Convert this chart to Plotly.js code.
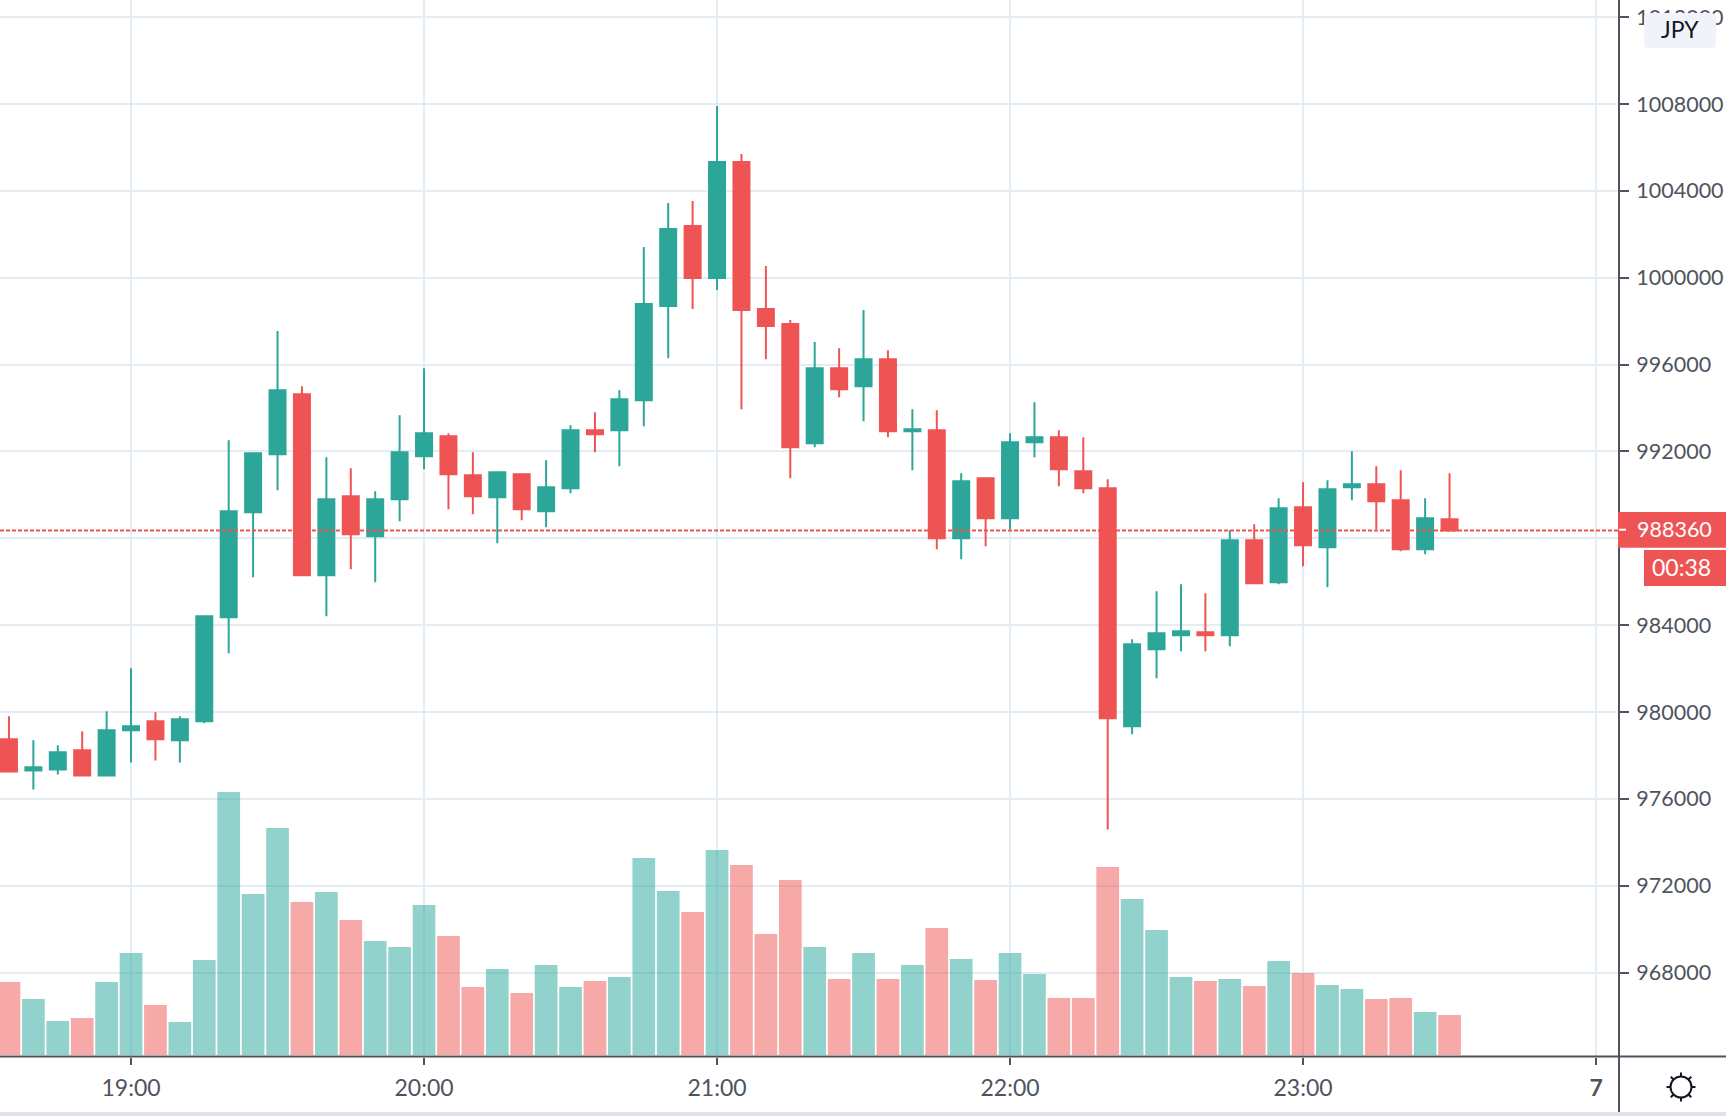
<!DOCTYPE html>
<html>
<head>
<meta charset="utf-8">
<script src="https://cdn.plot.ly/plotly-3.0.1.min.js"></script>
<style>html,body{margin:0;padding:0;background:#fff;overflow:hidden}#chart{width:1726px;height:1116px}</style>
</head>
<body>
<div id="chart"></div>
<script>
const times = ["18:35","18:40","18:45","18:50","18:55","19:00","19:05","19:10","19:15","19:20","19:25","19:30","19:35","19:40","19:45","19:50","19:55","20:00","20:05","20:10","20:15","20:20","20:25","20:30","20:35","20:40","20:45","20:50","20:55","21:00","21:05","21:10","21:15","21:20","21:25","21:30","21:35","21:40","21:45","21:50","21:55","22:00","22:05","22:10","22:15","22:20","22:25","22:30","22:35","22:40","22:45","22:50","22:55","23:00","23:05","23:10","23:15","23:20","23:25","23:30"];
const opens = [978739,977310,977356,978232,977080,979154,979568,978693,979569,984361,989200,991872,994637,986297,989937,988094,989799,991780,992702,990904,989890,990950,989246,990305,992978,992978,994360,998692,1002378,999982,1005327,998553,997862,992379,995835,995005,996249,992932,992978,988001,990766,988923,992425,992655,991089,990305,979338,982887,983532,983670,983532,987909,985974,989430,987587,990351,990490,989752,987494,988877];
const highs = [979799,978693,978462,979108,980029,982011,979983,979799,984453,992517,991918,997540,995006,991734,991227,990167,993669,995835,992840,991964,991043,990996,991595,993208,993807,994821,1001410,1003438,1003530,1007908,1005696,1000535,998047,997033,996756,998507,996664,993945,993899,990996,990812,992840,994268,992978,992655,990720,983347,985559,985882,985467,988370,988646,989845,990582,990674,992010,991319,991135,989845,990997];
const lows = [977264,976435,977126,977080,977034,977679,977771,977679,979477,982702,986204,990213,986297,984407,986573,985974,988785,991181,989338,989107,987771,988831,988508,990075,991964,991319,993162,996295,998553,999429,993945,996249,990766,992194,994498,993393,992655,991135,987494,987033,987633,988416,991734,990397,990075,974592,978970,981550,982794,982794,983025,985928,985882,986711,985743,989752,988416,987402,987264,988324];
const closes = [977264,977449,978140,977080,979154,979338,978739,979660,984407,989246,991918,994821,986297,989799,988186,989799,991964,992840,990951,989937,991043,989337,990351,992978,992793,994406,998784,1002240,999982,1005327,998507,997770,992194,995835,994867,996249,992932,993024,988001,990628,988923,992425,992655,991181,990305,979707,983117,983624,983716,983532,987909,985928,989384,987679,990259,990490,989706,987494,988923,988360];
const volumes = [219,168,102,111,219,306,150,99,285,789,483,681,459,489,405,342,324,450,357,204,258,186,270,204,222,234,591,492,429,615,570,363,525,324,228,306,228,270,381,288,225,306,243,171,171,564,468,375,234,222,228,207,282,246,210,198,168,171,129,120];
const tickTimes = ["19:00","20:00","21:00","22:00","23:00"];
const tickLabels = ["19:00","20:00","21:00","22:00","23:00","<b>7</b>"];
const lastPrice = 988360;
const lastPriceLabel = "988360";
const countdownLabel = "00:38";
const currencyLabel = "JPY";

const DAY = "2020-07-06 ";
const NEXT_DAY = "2020-07-07 ";
const W = 1726, H = 1116, AX = 1619, AY = 1056.5;
const UP = "#2da69a", DOWN = "#ef5454", TEXT = "#50535e", GRID = "#e3edf3", AXIS = "#50535e";
const FONT = "Lato, 'Open Sans', sans-serif";
const px = x => x / W, py = y => 1 - y / H;

const x = times.map(t => DAY + t);
const volColors = closes.map((c, i) => c >= opens[i] ? "rgba(38,166,154,0.5)" : "rgba(239,83,80,0.5)");

const line = (x0, y0, x1, y1, color, width) => ({type:"line", xref:"paper", yref:"paper", x0:px(x0), y0:py(y0), x1:px(x1), y1:py(y1), line:{color, width}, layer:"above"});
const rect = (x0, y0, x1, y1, fill) => ({type:"rect", xref:"paper", yref:"paper", x0:px(x0), y0:py(y0), x1:px(x1), y1:py(y1), fillcolor:fill, line:{width:0}, layer:"above"});
function rounded(x0, y0, x1, y1, r, fill) {
  const X = v => px(v), Y = v => py(v);
  const p = `M${X(x0+r)},${Y(y0)} L${X(x1-r)},${Y(y0)} Q${X(x1)},${Y(y0)} ${X(x1)},${Y(y0+r)} L${X(x1)},${Y(y1-r)} Q${X(x1)},${Y(y1)} ${X(x1-r)},${Y(y1)} L${X(x0+r)},${Y(y1)} Q${X(x0)},${Y(y1)} ${X(x0)},${Y(y1-r)} L${X(x0)},${Y(y0+r)} Q${X(x0)},${Y(y0)} ${X(x0+r)},${Y(y0)} Z`;
  return {type:"path", xref:"paper", yref:"paper", path:p, fillcolor:fill, line:{width:0}, layer:"above"};
}
const gearX = 1681, gearY = 1087, gearR = 10.5;
const gear = [{type:"circle", xref:"paper", yref:"paper", x0:px(gearX-gearR), x1:px(gearX+gearR), y0:py(gearY-gearR), y1:py(gearY+gearR), line:{color:"#131722", width:2}, layer:"above"}];
for (let k = 0; k < 8; k++) {
  const a = k * Math.PI / 4, r0 = gearR, r1 = gearR + 4;
  gear.push(line(gearX + r0*Math.cos(a), gearY + r0*Math.sin(a), gearX + r1*Math.cos(a), gearY + r1*Math.sin(a), "#131722", 2));
}

const traces = [
  {type:"bar", x, y:volumes, yaxis:"y2", marker:{color:volColors, line:{width:0}}, hoverinfo:"skip", showlegend:false},
  {type:"candlestick", x, open:opens, high:highs, low:lows, close:closes, whiskerwidth:0,
   increasing:{line:{color:UP, width:2}, fillcolor:UP}, decreasing:{line:{color:DOWN, width:2}, fillcolor:DOWN},
   hoverinfo:"skip", showlegend:false}
];

const annFont = {family:FONT, size:21.5, color:"#ffffff"};
const layout = {
  width:W, height:H, margin:{l:0,r:0,t:0,b:0,pad:0}, paper_bgcolor:"#ffffff", plot_bgcolor:"#ffffff",
  showlegend:false, hovermode:false, dragmode:false, bargap:0.07, boxgap:0.345, boxgroupgap:0,
  font:{family:FONT, size:21.5, color:TEXT},
  xaxis:{type:"date", domain:[0,AX/W], anchor:"y", range:[DAY+"18:33:10", NEXT_DAY+"00:04:42"],
    tickmode:"array", tickvals:tickTimes.map(t=>DAY+t).concat([NEXT_DAY+"00:00"]), ticktext:tickLabels,
    showgrid:true, gridcolor:GRID, gridwidth:2, zeroline:false, showline:false,
    ticks:"outside", ticklen:7, tickwidth:2, tickcolor:AXIS, ticklabelstandoff:4,
    tickfont:{family:FONT, size:23, color:TEXT}, rangeslider:{visible:false}, fixedrange:true},
  yaxis:{domain:[1-AY/H,1], anchor:"x", side:"right", range:[964134,1012788], tick0:968000, dtick:4000,
    tickformat:"d", showgrid:true, gridcolor:GRID, gridwidth:2, zeroline:false, showline:false,
    ticks:"outside", ticklen:9, tickwidth:2, tickcolor:AXIS, ticklabelstandoff:3, ticklabelshift:-2.5, ticklabeloverflow:"allow",
    tickfont:{family:FONT, size:21.5, color:TEXT}, fixedrange:true},
  yaxis2:{domain:[1-AY/H,1], overlaying:"y", anchor:"x", side:"left", range:[-4.5,3165], visible:false, showgrid:false, fixedrange:true},
  shapes:[
    {type:"line", xref:"paper", yref:"y", x0:0, x1:px(AX), y0:lastPrice, y1:lastPrice, line:{color:DOWN, width:2, dash:"4px,2px"}, layer:"above"},
    line(0, AY, W, AY, AXIS, 2),
    line(AX, 0, AX, 1112, AXIS, 2),
    rect(0, 1112, W, H, "#e0e3eb"),
    rect(AX-1, 512, W, 547.7, DOWN),
    line(AX, 529.7, AX+7, 529.7, "#ffffff", 2),
    rect(1644, 550, W, 586, DOWN),
    rounded(1644, 13, 1716, 48, 5, "#f0f3fa")
  ].concat(gear),
  annotations:[
    {xref:"paper", yref:"paper", x:px(1674), y:py(529), text:lastPriceLabel, showarrow:false, font:annFont, xanchor:"center", yanchor:"middle"},
    {xref:"paper", yref:"paper", x:px(1681), y:py(567), text:countdownLabel, showarrow:false, font:{family:FONT, size:23, color:"#ffffff"}, xanchor:"center", yanchor:"middle"},
    {xref:"paper", yref:"paper", x:px(1680), y:py(29), text:currencyLabel, showarrow:false, font:{family:FONT, size:23, color:"#131722"}, xanchor:"center", yanchor:"middle"}
  ]
};
Plotly.newPlot("chart", traces, layout, {displayModeBar:false, staticPlot:true, responsive:false});
</script>
</body>
</html>
